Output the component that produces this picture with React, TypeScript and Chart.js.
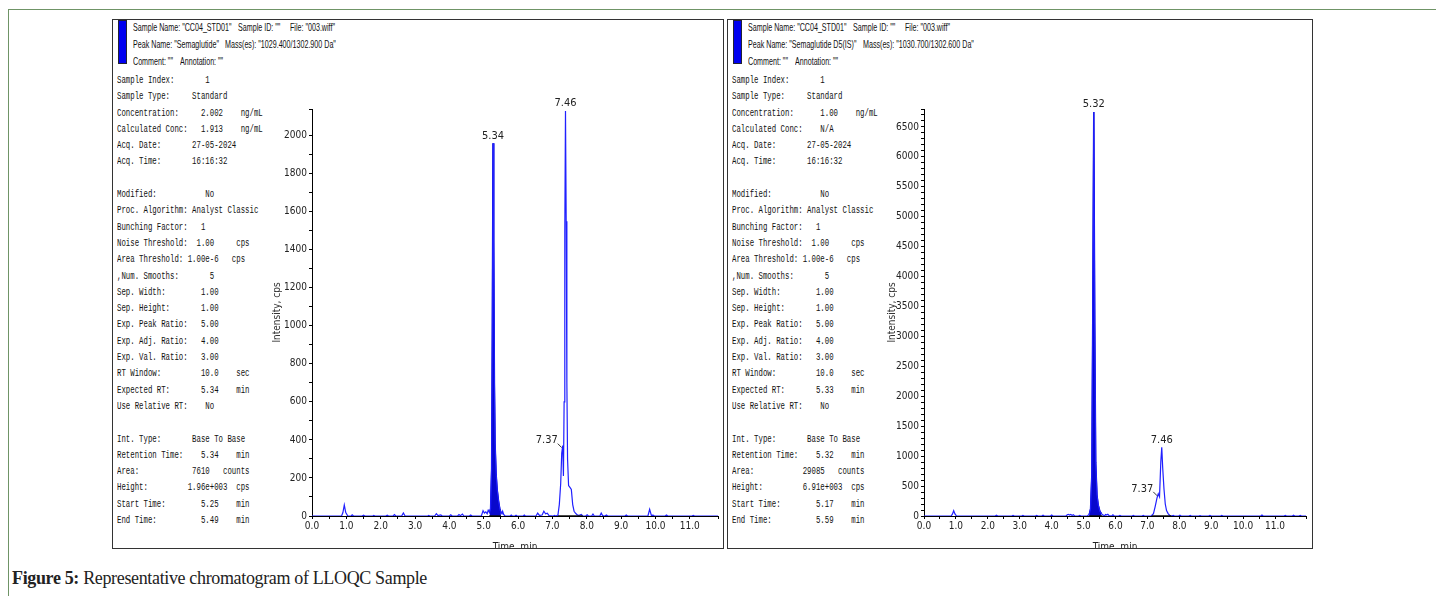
import React, { useEffect, useRef } from "react";
import { Chart, registerables } from "chart.js";

Chart.register(...registerables);

const NARROW =
  "'Liberation Sans Narrow', 'Arial Narrow', 'DejaVu Sans Condensed', 'Liberation Sans', Arial, sans-serif";
const MONO = "'Liberation Mono', 'DejaVu Sans Mono', monospace";

// ---------- header text ----------
const leftHeader1 = ['Sample Name: "CC04_STD01"', 'Sample ID: ""', 'File: "003.wiff"'];
const leftHeader2 = ['Peak Name: "Semaglutide"', 'Mass(es): "1029.400/1302.900 Da"'];
const rightHeader1 = ['Sample Name: "CC04_STD01"', 'Sample ID: ""', 'File: "003.wiff"'];
const rightHeader2 = ['Peak Name: "Semaglutide D5(IS)"', 'Mass(es): "1030.700/1302.600 Da"'];
const header3 = ['Comment: ""', 'Annotation: ""'];

// ---------- side info text ----------
const leftInfo = [
  "Sample Index:       1",
  "Sample Type:     Standard",
  "Concentration:     2.002    ng/mL",
  "Calculated Conc:   1.913    ng/mL",
  "Acq. Date:       27-05-2024",
  "Acq. Time:       16:16:32",
  "",
  "Modified:           No",
  "Proc. Algorithm: Analyst Classic",
  "Bunching Factor:   1",
  "Noise Threshold:  1.00     cps",
  "Area Threshold: 1.00e-6   cps",
  ",Num. Smooths:       5",
  "Sep. Width:        1.00",
  "Sep. Height:       1.00",
  "Exp. Peak Ratio:   5.00",
  "Exp. Adj. Ratio:   4.00",
  "Exp. Val. Ratio:   3.00",
  "RT Window:         10.0    sec",
  "Expected RT:       5.34    min",
  "Use Relative RT:    No",
  "",
  "Int. Type:       Base To Base",
  "Retention Time:    5.34    min",
  "Area:            7610   counts",
  "Height:         1.96e+003  cps",
  "Start Time:        5.25    min",
  "End Time:          5.49    min",
];

const rightInfo = [
  "Sample Index:       1",
  "Sample Type:     Standard",
  "Concentration:      1.00    ng/mL",
  "Calculated Conc:    N/A",
  "Acq. Date:       27-05-2024",
  "Acq. Time:       16:16:32",
  "",
  "Modified:           No",
  "Proc. Algorithm: Analyst Classic",
  "Bunching Factor:   1",
  "Noise Threshold:  1.00     cps",
  "Area Threshold: 1.00e-6   cps",
  ",Num. Smooths:       5",
  "Sep. Width:        1.00",
  "Sep. Height:       1.00",
  "Exp. Peak Ratio:   5.00",
  "Exp. Adj. Ratio:   4.00",
  "Exp. Val. Ratio:   3.00",
  "RT Window:         10.0    sec",
  "Expected RT:       5.33    min",
  "Use Relative RT:    No",
  "",
  "Int. Type:       Base To Base",
  "Retention Time:    5.32    min",
  "Area:           29085   counts",
  "Height:         6.91e+003  cps",
  "Start Time:        5.17    min",
  "End Time:          5.59    min",
];

// ---------- chromatogram traces: [time (min), intensity (cps)] ----------
const leftTrace: [number, number][] = [
  [0, 0], [0.86, 0], [0.9, 18], [0.94, 58], [0.98, 20], [1.04, 0], [1.14, 0], [1.17, 6], [1.21, 0],
  [1.46, 0], [1.5, 4], [1.54, 0], [1.77, 0], [1.8, 3], [1.83, 0],
  [2.15, 0], [2.19, 4], [2.23, 0], [2.36, 0], [2.4, 7], [2.44, 0], [2.61, 0], [2.66, 16], [2.71, 0],
  [3.37, 0], [3.4, 3], [3.43, 0], [3.57, 0], [3.62, 12], [3.67, 2], [3.75, 6], [3.79, 0],
  [4.0, 0], [4.04, 6], [4.08, 0], [4.24, 0], [4.28, 8], [4.32, 2], [4.38, 10], [4.42, 0], [4.58, 0], [4.62, 5], [4.66, 0],
  [4.93, 0], [4.98, 28], [5.02, 15], [5.06, 22], [5.1, 12], [5.13, 30], [5.17, 18], [5.2, 40], [5.23, 250],
  [5.25, 950], [5.27, 1960], [5.29, 1450], [5.31, 700], [5.33, 380], [5.36, 220], [5.39, 140], [5.43, 80],
  [5.47, 35], [5.5, 20], [5.53, 12], [5.55, 25], [5.58, 8], [5.62, 0],
  [5.77, 0], [5.8, 5], [5.83, 0], [5.91, 0], [5.94, 4], [5.97, 0], [6.15, 0], [6.18, 5], [6.21, 0],
  [6.52, 0], [6.57, 15], [6.62, 3], [6.7, 5], [6.75, 25], [6.8, 12], [6.85, 15], [6.9, 2], [7.02, 0], [7.06, 3], [7.1, 0],
  [7.16, 5], [7.2, 60], [7.24, 170], [7.27, 330], [7.3, 370], [7.32, 210], [7.34, 600], [7.36, 1500],
  [7.38, 2130], [7.4, 1550], [7.42, 700], [7.44, 300], [7.47, 160], [7.51, 150], [7.55, 140], [7.59, 60],
  [7.63, 25], [7.67, 15], [7.71, 8], [7.76, 2], [7.84, 8], [7.88, 0],
  [7.97, 0], [8.01, 6], [8.05, 0], [8.14, 0], [8.18, 10], [8.22, 0], [8.38, 0], [8.42, 15], [8.46, 2], [8.53, 0], [8.57, 5], [8.61, 0],
  [9.11, 0], [9.15, 5], [9.19, 0], [9.78, 0], [9.83, 35], [9.88, 3], [9.93, 5], [9.97, 0],
  [10.28, 0], [10.32, 5], [10.36, 0], [11.06, 0], [11.1, 3], [11.14, 0], [11.82, 0],
];

const rightTrace: [number, number][] = [
  [0, 0], [0.85, 0], [0.89, 30], [0.93, 88], [0.97, 35], [1.02, 0],
  [2.23, 0], [2.27, 14], [2.31, 0], [2.75, 0], [2.79, 10], [2.83, 0], [3.06, 0], [3.1, 10], [3.14, 0],
  [3.49, 0], [3.53, 10], [3.57, 0], [3.69, 0], [3.73, 12], [3.77, 0], [3.96, 0], [4.0, 15], [4.04, 0],
  [4.45, 0], [4.49, 20], [4.52, 28], [4.56, 15], [4.6, 25], [4.64, 10], [4.68, 22], [4.72, 0], [4.84, 0], [4.88, 10], [4.92, 0],
  [5.12, 0], [5.18, 30], [5.22, 120], [5.26, 700], [5.29, 3500], [5.32, 6750], [5.35, 3200], [5.38, 900],
  [5.42, 350], [5.46, 180], [5.51, 80], [5.56, 40], [5.61, 15], [5.66, 5],
  [5.69, 25], [5.72, 15], [5.76, 28], [5.8, 5], [5.88, 0], [5.92, 20], [5.96, 0], [6.1, 0], [6.14, 10], [6.18, 0],
  [6.52, 0], [6.56, 10], [6.6, 0], [6.83, 0], [6.87, 10], [6.91, 0],
  [7.12, 0], [7.19, 40], [7.24, 150], [7.3, 300], [7.34, 370], [7.38, 320], [7.42, 900], [7.45, 1150],
  [7.48, 800], [7.52, 450], [7.56, 200], [7.6, 90], [7.65, 40], [7.7, 10], [7.75, 0],
  [7.81, 10], [7.85, 0], [7.98, 0], [8.02, 12], [8.06, 0], [8.3, 0], [8.34, 10], [8.38, 0], [8.61, 0], [8.65, 8], [8.69, 0],
  [8.92, 0], [8.96, 10], [9.0, 0], [9.29, 0], [9.33, 10], [9.37, 0], [10.55, 0], [10.59, 15], [10.63, 0],
  [11.28, 0], [11.32, 10], [11.36, 0], [11.54, 0], [11.58, 12], [11.62, 0], [11.75, 0], [11.79, 10], [11.83, 0], [11.97, 0],
];

// integrated peak window and baseline segments
const leftIntegration: [number, number] = [5.16, 5.5];
const rightIntegration: [number, number] = [5.17, 5.59];
const leftBaselines: [number, number][] = [[5.16, 5.5], [7.16, 7.88]];
const rightBaselines: [number, number][] = [[5.17, 5.59], [7.14, 7.75]];

// peak labels
const leftPeakLabels = [
  { text: "5.34", time: 5.27, value: 1960, side: false },
  { text: "7.46", time: 7.38, value: 2130, side: false },
  { text: "7.37", time: 7.3, value: 370, side: true },
];
const rightPeakLabels = [
  { text: "5.32", time: 5.32, value: 6750, side: false },
  { text: "7.46", time: 7.45, value: 1150, side: false },
  { text: "7.37", time: 7.34, value: 370, side: true },
];

const leftAxis = { xMax: 11.82, yMax: 2140, yStep: 100, yLabelStep: 200 };
const rightAxis = { xMax: 11.97, yMax: 6800, yStep: 100, yLabelStep: 500 };

const peakLabelPlugin = {
  id: "peakLabels",
  afterDatasetsDraw(chart: any, _args: any, opts: any) {
    const { ctx } = chart;
    const xs = chart.scales.x;
    const ys = chart.scales.y;
    ctx.save();
    ctx.font = `11px ${NARROW}`;
    ctx.fillStyle = "#222";
    ctx.strokeStyle = "#333";
    ctx.lineWidth = 1;
    for (const p of opts.items || []) {
      const px = xs.getPixelForValue(p.time);
      const py = ys.getPixelForValue(p.value);
      if (p.side) {
        ctx.textAlign = "right";
        ctx.textBaseline = "middle";
        ctx.fillText(p.text, px - 5, py - 5);
        ctx.beginPath();
        ctx.moveTo(px - 5, py - 2);
        ctx.lineTo(px - 1, py + 2);
        ctx.stroke();
      } else {
        ctx.textAlign = "center";
        ctx.textBaseline = "bottom";
        ctx.fillText(p.text, px, py - 2);
      }
    }
    ctx.restore();
  },
};

type PanelProps = {
  boxLeft: number;
  boxWidth: number;
  h1: string[];
  h1x: number[];
  h2: string[];
  h2x: number[];
  h3x: number[];
  info: string[];
  trace: [number, number][];
  integration: [number, number];
  baselines: [number, number][];
  labels: any[];
  axis: { xMax: number; yMax: number; yStep: number; yLabelStep: number };
  yWidth: number;
  canvasWidth: number;
};

function Panel(props: PanelProps) {
  const ref = useRef<HTMLCanvasElement | null>(null);
  useEffect(() => {
    if (!ref.current) return;
    const { trace, integration, baselines, labels, axis, yWidth } = props;
    const pts = trace.map(([t, v]) => ({ x: t, y: v }));
    const fillPts = trace
      .filter(([t]) => t >= integration[0] && t <= integration[1])
      .map(([t, v]) => ({ x: t, y: v }));
    const basePts: any[] = [];
    baselines.forEach(([a, b]) => {
      basePts.push({ x: a, y: 0 }, { x: b, y: 0 }, { x: b + 0.001, y: null });
    });
    const tickFont = { family: NARROW, size: 10 };
    const chart = new Chart(ref.current, {
      type: "line",
      data: {
        datasets: [
          {
            data: basePts,
            borderColor: "#111",
            borderWidth: 1.5,
            pointRadius: 0,
            fill: false,
            spanGaps: false,
            order: 0,
          },
          {
            data: pts,
            borderColor: "#2020ff",
            borderWidth: 1.2,
            pointRadius: 0,
            fill: false,
            tension: 0,
            order: 1,
          },
          {
            data: fillPts,
            borderColor: "#0000c8",
            backgroundColor: "#0808cc",
            borderWidth: 1.5,
            pointRadius: 0,
            fill: "origin",
            tension: 0,
            order: 2,
          },
        ],
      },
      options: {
        responsive: false,
        animation: false,
        events: [],
        layout: { padding: { left: 9, right: 4, top: 21, bottom: 0 } },
        plugins: {
          legend: { display: false },
          tooltip: { enabled: false },
          peakLabels: { items: labels },
        } as any,
        scales: {
          x: {
            type: "linear",
            min: 0,
            max: axis.xMax,
            afterFit: (s: any) => {
              s.height = 37;
            },
            ticks: {
              stepSize: 0.5,
              autoSkip: false,
              maxRotation: 0,
              minRotation: 0,
              padding: 1,
              color: "#222",
              font: tickFont,
              callback: (v: any) => (Number.isInteger(v) ? Number(v).toFixed(1) : ""),
            },
            grid: { display: true, drawOnChartArea: false, drawTicks: true, tickLength: 3, color: "#000" },
            border: { display: true, color: "#000" },
            title: { display: true, text: "Time, min", color: "#222", font: tickFont, padding: 0 },
          },
          y: {
            type: "linear",
            min: 0,
            max: axis.yMax,
            afterFit: (s: any) => {
              s.width = yWidth;
            },
            ticks: {
              stepSize: axis.yStep,
              autoSkip: false,
              padding: 2,
              color: "#222",
              font: tickFont,
              callback: (v: any) => (Number(v) % axis.yLabelStep === 0 ? String(v) : ""),
            },
            grid: { display: true, drawOnChartArea: false, drawTicks: true, tickLength: 3, color: "#000" },
            border: { display: true, color: "#000" },
            title: { display: true, text: "Intensity, cps", color: "#333", font: tickFont, padding: 0 },
          },
        },
      } as any,
      plugins: [peakLabelPlugin as any],
    });
    return () => chart.destroy();
  }, []);

  const headerSpan = (text: string, left: number, top: number, key: string) => (
    <span
      key={key}
      style={{
        position: "absolute",
        left,
        top,
        fontFamily: "'Liberation Sans', Arial, sans-serif",
        fontSize: 11.5,
        lineHeight: "14px",
        color: "#111",
        whiteSpace: "pre",
        transform: "scaleX(0.62)",
        transformOrigin: "left top",
      }}
    >
      {text}
    </span>
  );

  return (
    <div
      style={{
        position: "absolute",
        left: props.boxLeft,
        top: 19,
        width: props.boxWidth,
        height: 528,
        border: "1px solid #333",
        overflow: "hidden",
        background: "#fff",
      }}
    >
      <div
        style={{
          position: "absolute",
          left: 5,
          top: 0,
          width: 7,
          height: 42,
          background: "#0000f0",
          border: "1px solid #223",
        }}
      />
      {props.h1.map((t, i) => headerSpan(t, props.h1x[i], 0, "a" + i))}
      {props.h2.map((t, i) => headerSpan(t, props.h2x[i], 17, "b" + i))}
      {header3.map((t, i) => headerSpan(t, props.h3x[i], 34, "c" + i))}
      <div
        style={{
          position: "absolute",
          left: 4,
          top: 52,
          fontFamily: MONO,
          fontSize: 11.5,
          lineHeight: "16.3px",
          color: "#111",
          whiteSpace: "pre",
          transform: "scaleX(0.64)",
          transformOrigin: "left top",
        }}
      >
        {props.info.map((l, i) => (
          <div key={i} style={{ height: "16.3px" }}>
            {l}
          </div>
        ))}
      </div>
      <canvas
        ref={ref}
        width={props.canvasWidth}
        height={465}
        style={{ position: "absolute", left: 149, top: 68 }}
      />
    </div>
  );
}

export default function App() {
  return (
    <div
      style={{
        position: "absolute",
        left: 0,
        top: 0,
        width: 1436,
        height: 596,
        background: "#fff",
        overflow: "hidden",
      }}
    >
      <div
        style={{
          position: "absolute",
          left: 8,
          top: 9,
          width: 1440,
          height: 600,
          borderTop: "1px solid #6f9466",
          borderLeft: "1px solid #6f9466",
        }}
      />
      <Panel
        boxLeft={112}
        boxWidth={610}
        h1={leftHeader1}
        h1x={[20, 125, 177]}
        h2={leftHeader2}
        h2x={[20, 112]}
        h3x={[20, 67]}
        info={leftInfo}
        trace={leftTrace}
        integration={leftIntegration}
        baselines={leftBaselines}
        labels={leftPeakLabels}
        axis={leftAxis}
        yWidth={41}
        canvasWidth={460}
      />
      <Panel
        boxLeft={727}
        boxWidth={584}
        h1={rightHeader1}
        h1x={[20, 125, 177]}
        h2={rightHeader2}
        h2x={[20, 135]}
        h3x={[20, 67]}
        info={rightInfo}
        trace={rightTrace}
        integration={rightIntegration}
        baselines={rightBaselines}
        labels={rightPeakLabels}
        axis={rightAxis}
        yWidth={38}
        canvasWidth={433}
      />
      <div
        style={{
          position: "absolute",
          left: 12,
          top: 567,
          fontFamily: "'Liberation Serif', 'DejaVu Serif', serif",
          fontSize: 18,
          lineHeight: "22px",
          letterSpacing: "-0.35px",
          color: "#222",
          whiteSpace: "pre",
        }}
      >
        <b>Figure 5:</b> Representative chromatogram of LLOQC Sample
      </div>
    </div>
  );
}
